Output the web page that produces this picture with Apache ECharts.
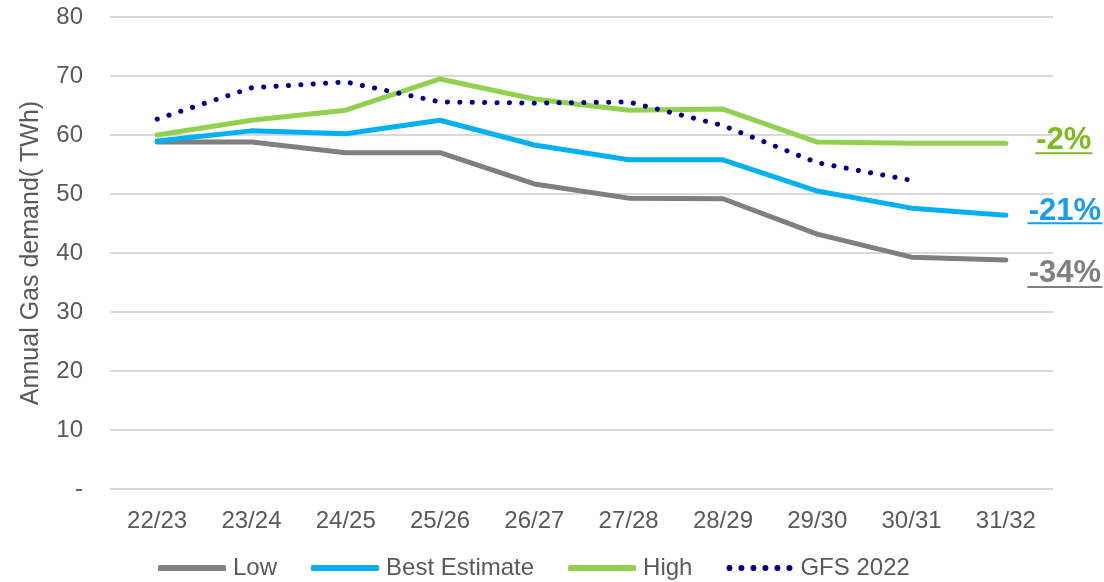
<!DOCTYPE html>
<html><head><meta charset="utf-8">
<script src="https://cdn.jsdelivr.net/npm/echarts@6/dist/echarts.min.js"></script>
<style>html,body{margin:0;padding:0;background:#fff}#c{width:1104px;height:582px}</style>
</head><body><div id="c"></div>
<script>
const categories = ['22/23','23/24','24/25','25/26','26/27','27/28','28/29','29/30','30/31','31/32'];
const lowValues  = [58.8, 58.8, 57.0, 57.0, 51.7, 49.3, 49.2, 43.2, 39.3, 38.8];
const bestValues = [59.0, 60.7, 60.2, 62.5, 58.3, 55.8, 55.8, 50.5, 47.6, 46.4];
const highValues = [60.0, 62.5, 64.2, 69.5, 66.1, 64.2, 64.4, 58.8, 58.6, 58.6];
const gfsValues  = [62.7, 68.0, 69.0, 65.6, 65.4, 65.6, 61.6, 55.3, 52.3];
const annotations = [
  {series: 2, text: '-2%', color: '#7DBA1E', dx: 58, dy: -3, ul: 13, w: 57},
  {series: 1, text: '-21%', color: '#1A9BEF', dx: 59, dy: -4, ul: 12, w: 75},
  {series: 0, text: '-34%', color: '#7F7F7F', dx: 59, dy: 13, ul: 14, w: 75}
];
const font = 'Liberation Sans, Arial, sans-serif';
const colors = {low: '#7F7F7F', best: '#00B0F0', high: '#92D050', gfs: '#000080'};
let dots = 'path://';
for (let i = 0; i < 6; i++) { const x = 3 + i * 12; dots += `M${x-3},3 a3,3 0 1,0 6,0 a3,3 0 1,0 -6,0 `; }
dots += 'M0,0 M66,6';
const chart = echarts.init(document.getElementById('c'));
function line(name, data, color, dotted) {
  return {
    name, type: 'line', data, symbol: 'none', showSymbol: false,
    lineStyle: dotted ? {color, width: 5, type: [0.1, 12.3], cap: 'round'} : {color, width: 5, cap: 'round', join: 'round'},
    itemStyle: {color}, emphasis: {disabled: true}, animation: false
  };
}
chart.setOption({
  animation: false,
  grid: {left: 110, right: 51, top: 17, bottom: 93},
  legend: {
    top: 551, left: 153, itemWidth: 68, itemHeight: 6, itemGap: 34,
    textStyle: {fontSize: 24, color: '#595959', fontFamily: font, padding: [0, 0, 0, 2]},
    data: [
      {name: 'Low', icon: 'roundRect', itemStyle: {color: colors.low}},
      {name: 'Best Estimate', icon: 'roundRect', itemStyle: {color: colors.best}},
      {name: 'High', icon: 'roundRect', itemStyle: {color: colors.high}},
      {name: 'GFS 2022', icon: dots, itemStyle: {color: colors.gfs}}
    ]
  },
  xAxis: {
    type: 'category', data: categories, boundaryGap: true,
    axisLine: {show: false}, axisTick: {show: false},
    axisLabel: {fontSize: 24, color: '#595959', fontFamily: font, margin: 20}
  },
  yAxis: {
    type: 'value', min: 0, max: 80, interval: 10,
    name: 'Annual Gas demand( TWh)', nameLocation: 'middle', nameGap: 66, nameRotate: 90,
    nameTextStyle: {fontSize: 25, color: '#595959', fontFamily: font},
    axisLine: {show: false}, axisTick: {show: false},
    axisLabel: {fontSize: 24, color: '#595959', fontFamily: font, margin: 27, formatter: v => v === 0 ? '-' : v},
    splitLine: {lineStyle: {color: '#D9D9D9', width: 2}}
  },
  series: [
    line('Low', lowValues, colors.low),
    line('Best Estimate', bestValues, colors.best),
    line('High', highValues, colors.high),
    line('GFS 2022', gfsValues, colors.gfs, true)
  ]
});
const seriesData = [lowValues, bestValues, highValues];
const g = [];
annotations.forEach(a => {
  const d = seriesData[a.series];
  const p = chart.convertToPixel({gridIndex: 0}, [categories.length - 1, d[d.length - 1]]);
  const cx = p[0] + a.dx, cy = p[1] + a.dy;
  g.push({type: 'text', x: cx, y: cy, style: {text: a.text, fill: a.color, font: 'bold 31px ' + font, align: 'center', verticalAlign: 'middle'}});
  g.push({type: 'line', shape: {x1: cx - a.w/2, y1: cy + a.ul, x2: cx + a.w/2, y2: cy + a.ul}, style: {stroke: a.color, lineWidth: 2}});
});
chart.setOption({graphic: g});
</script></body></html>
